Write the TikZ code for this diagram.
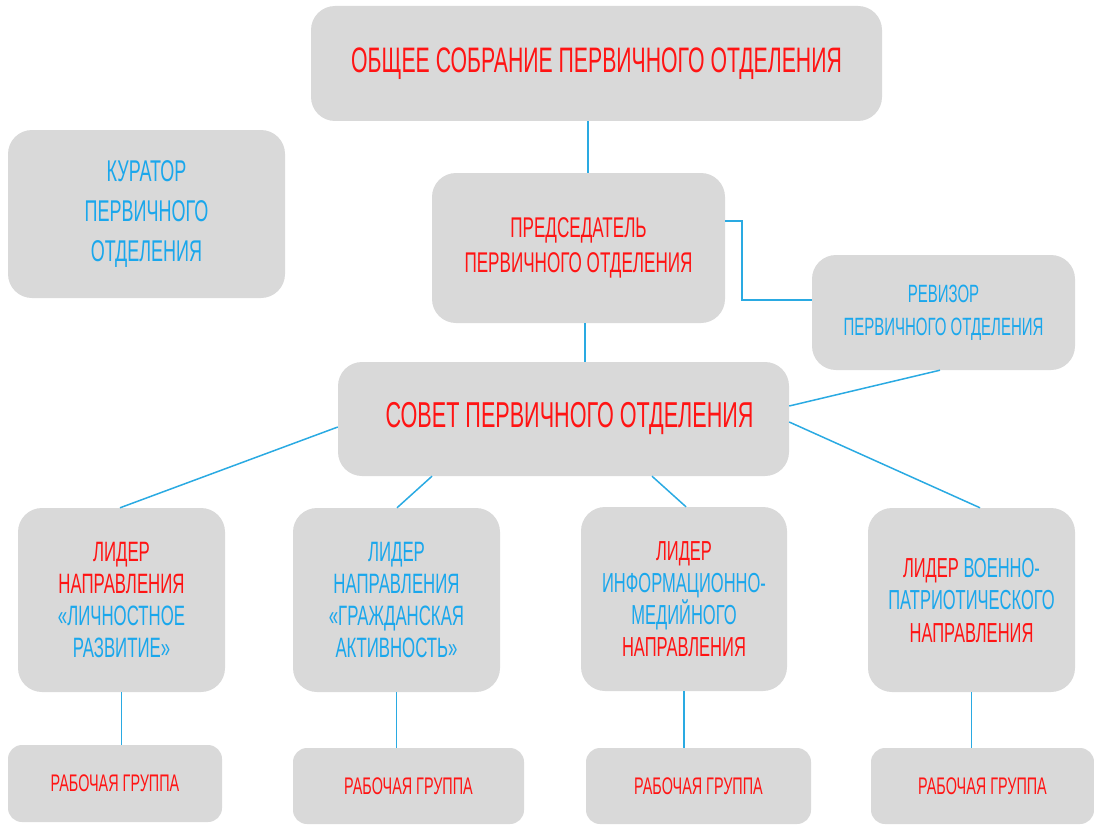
\documentclass[tikz,border=0pt]{standalone}
\usepackage{fontspec}
\setmainfont[FakeStretch=0.6]{Liberation Sans}
\definecolor{boxgray}{HTML}{D9D9D9}
\definecolor{tred}{HTML}{FF1414}
\definecolor{tblue}{HTML}{1AA7EC}
\definecolor{lblue}{HTML}{2AAAE2}
\tikzset{
  box/.style={fill=boxgray, draw=none, rounded corners=24pt, align=center, inner sep=0pt, anchor=center},
  grp/.style={box, rounded corners=14pt},
  conn/.style={draw=lblue, line width=1.5pt},
  fs/.style 2 args={font=\fontsize{#1}{#2}\selectfont}
}
\newcommand{\R}[1]{\textcolor{tred}{#1}}
\newcommand{\B}[1]{\textcolor{tblue}{#1}}
\begin{document}
\begin{tikzpicture}[x=1pt,y=-1pt]
\useasboundingbox (0,0) rectangle (1094,824);
% boxes
\node[box, minimum width=571pt, minimum height=115pt, fs={35.4}{40}] (top) at (596.5,63.5) {\R{ОБЩЕЕ СОБРАНИЕ ПЕРВИЧНОГО ОТДЕЛЕНИЯ}};
\node[box, minimum width=277pt, minimum height=168pt, fs={30}{40}] (kur) at (146.5,214) {\B{КУРАТОР}\\\B{ПЕРВИЧНОГО}\\\B{ОТДЕЛЕНИЯ}};
\node[box, minimum width=293pt, minimum height=150pt, fs={28.5}{35}] (pred) at (578.5,248) {\R{ПРЕДСЕДАТЕЛЬ}\\\R{ПЕРВИЧНОГО ОТДЕЛЕНИЯ}};
\node[box, minimum width=263pt, minimum height=115pt, fs={25}{33}] (rev) at (943.5,312.5) {\B{РЕВИЗОР}\\\B{ПЕРВИЧНОГО ОТДЕЛЕНИЯ}};
\node[box, minimum width=451pt, minimum height=114pt, fs={36}{40}] (sov) at (563.5,419) {\hspace*{12pt}\R{СОВЕТ ПЕРВИЧНОГО ОТДЕЛЕНИЯ}};
\node[box, minimum width=207pt, minimum height=184pt, fs={28}{32}] (l1) at (121.5,600) {\R{ЛИДЕР}\\\R{НАПРАВЛЕНИЯ}\\\B{«ЛИЧНОСТНОЕ}\\\B{РАЗВИТИЕ»}};
\node[box, minimum width=207pt, minimum height=184pt, fs={28}{32}] (l2) at (396.5,600) {\B{ЛИДЕР}\\\B{НАПРАВЛЕНИЯ}\\\B{«ГРАЖДАНСКАЯ}\\\B{АКТИВНОСТЬ»}};
\node[box, minimum width=206pt, minimum height=184pt, fs={27.5}{32}] (l3) at (684,599) {\R{ЛИДЕР}\\\B{ИНФОРМАЦИОННО-}\\\B{МЕДИЙНОГО}\\\R{НАПРАВЛЕНИЯ}};
\node[box, minimum width=207pt, minimum height=184pt, fs={27.5}{32.5}] (l4) at (971.5,600) {\R{ЛИДЕР} \B{ВОЕННО-}\\\B{ПАТРИОТИЧЕСКОГО}\\\R{НАПРАВЛЕНИЯ}};
\node[grp, minimum width=214pt, minimum height=77pt, fs={24}{30}] (w1) at (115,783.5) {\R{РАБОЧАЯ ГРУППА}};
\node[grp, minimum width=231pt, minimum height=76pt, fs={24}{30}] (w2) at (408.5,786) {\R{РАБОЧАЯ ГРУППА}};
\node[grp, minimum width=225pt, minimum height=76pt, fs={24}{30}] (w3) at (698.5,786) {\R{РАБОЧАЯ ГРУППА}};
\node[grp, minimum width=223pt, minimum height=76pt, fs={24}{30}] (w4) at (982.5,786) {\R{РАБОЧАЯ ГРУППА}};
% connectors
\draw[conn] ([xshift=-8.5pt]top.south) -- ([xshift=9.5pt]pred.north);
\draw[conn] ([xshift=6.5pt]pred.south) -- ([xshift=21.5pt]sov.north);
\draw[conn] ([yshift=27pt]pred.east) -- ++(17,0) |- ([yshift=12.5pt]rev.west);
\draw[conn] ([xshift=-3.5pt]rev.south) -- ([yshift=13pt]sov.east);
\draw[conn] ([yshift=-8pt]sov.west) -- ([xshift=-1.5pt]l1.north);
\draw[conn] ([xshift=-131.5pt]sov.south) -- ([xshift=0.5pt]l2.north);
\draw[conn] ([xshift=88.5pt]sov.south) -- ([xshift=2pt]l3.north);
\draw[conn] ([yshift=-3pt]sov.east) -- ([xshift=8.5pt]l4.north);
\draw[conn] (l1.south) -- (l1.south |- w1.north);
\draw[conn] (l2.south) -- (l2.south |- w2.north);
\draw[conn] (l3.south) -- (l3.south |- w3.north);
\draw[conn] (l4.south) -- (l4.south |- w4.north);
\end{tikzpicture}
\end{document}
